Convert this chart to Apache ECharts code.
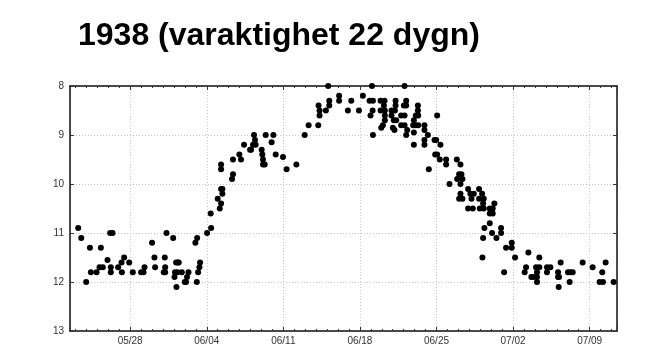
<!DOCTYPE html>
<html>
<head>
<meta charset="utf-8">
<script src="https://cdn.jsdelivr.net/npm/echarts@6/dist/echarts.min.js"></script>
<style>
html, body { margin: 0; padding: 0; background: #fff; }
#chart { width: 668px; height: 348px; }
</style>
</head>
<body>
<div id="chart"></div>
<script>
const titleText = '1938 (varaktighet 22 dygn)';

// x = day of year 1938 (1 Jan = 0), so 05/28 = 147 and weekly ticks fall on multiples of 7
const firstTickDay = 147;
const tickLabels = ['05/28', '06/04', '06/11', '06/18', '06/25', '07/02', '07/09'];

const obsDay = [
  142.25, 142.53, 142.98, 143.32, 143.41, 143.93, 144.2, 144.32, 144.5, 144.93,
  145.17, 145.39, 145.23, 145.23, 145.9, 146.21, 146.24, 146.45, 146.91, 147.24,
  148.0, 148.22, 148.31, 149.0, 149.22, 149.28, 150.07, 150.16, 150.2, 150.2,
  150.32, 150.93, 151.05, 151.1, 151.2, 151.23, 151.35, 151.44, 151.32, 151.72,
  151.99, 152.11, 152.2, 152.33, 152.96, 153.12, 153.09, 153.21, 153.33, 153.39,
  154.03, 154.4, 154.36, 155.0, 155.19, 155.31, 155.31, 155.43, 155.43, 155.31,
  155.31, 156.31, 156.4, 156.4, 156.98, 157.13, 157.41, 157.96, 158.05, 158.23,
  158.32, 158.41, 158.47, 159.02, 159.08, 159.14, 159.14, 159.3, 159.39, 159.93,
  160.09, 160.3, 160.97, 161.3, 162.19, 162.95, 163.31, 164.19, 164.22, 164.31,
  164.31, 164.89, 165.1, 165.2, 165.2, 166.1, 166.1,
  166.9, 167.21, 167.91, 168.27, 168.88, 169.1, 169.19, 169.16, 168.97, 169.19,
  169.89, 170.25, 169.89, 170.19, 170.28, 170.28, 170.28, 170.1, 169.95, 170.89,
  171.2, 171.26, 171.26, 170.89, 171.1, 171.32, 171.01, 171.16, 171.77, 172.08,
  172.08, 172.23, 172.02, 172.23, 171.77, 172.08, 172.23, 172.32, 172.93, 173.11,
  173.33, 173.3, 173.3, 172.87, 173.08, 173.33, 172.93, 172.93, 173.9, 173.9,
  174.21, 173.9, 173.9, 174.3, 175.06, 174.82, 174.97, 175.36, 174.88, 175.06,
  175.3, 175.88, 175.88, 176.19, 176.86, 177.19, 177.07, 177.28, 176.89, 177.37,
  177.19, 177.19, 177.07, 177.37, 177.89, 178.1, 178.41, 178.2, 177.89, 178.32,
  178.89, 179.17, 178.89, 179.32, 179.26, 178.96, 179.32, 179.87, 180.14, 179.87,
  180.14, 180.29, 179.38, 179.87, 179.26, 180.08, 180.48, 180.9, 180.9, 179.2,
  181.36, 181.88, 181.88, 182.18, 181.18, 183.4, 183.19, 183.06, 183.67, 183.89,
  184.1, 184.4, 184.19, 184.19, 184.19, 184.4, 185.1, 185.41, 185.1, 186.11,
  186.11, 186.2, 186.17, 186.35, 187.02, 187.23, 187.45, 187.17, 188.36, 189.27,
  189.91, 190.22, 190.15, 190.46, 191.19
];

const waterLevel = [
  10.9, 11.1, 12.0, 11.3, 11.8, 11.8, 11.7, 11.3, 11.7, 11.55,
  11.0, 11.0, 11.7, 11.8, 11.7, 11.6, 11.8, 11.5, 11.6, 11.8,
  11.8, 11.8, 11.7, 11.2, 11.5, 11.7, 11.8, 11.5, 11.7, 11.8,
  11.0, 11.1, 11.9, 11.8, 11.6, 12.1, 11.6, 11.6, 11.8, 11.8,
  12.0, 12.0, 11.9, 11.8, 11.2, 11.1, 12.0, 11.8, 11.7, 11.6,
  11.0, 10.9, 10.6, 10.3, 10.5, 10.4, 10.1, 10.1, 10.2, 9.6,
  9.7, 9.9, 9.8, 9.5, 9.4, 9.5, 9.2, 9.3, 9.3, 9.2,
  9.0, 9.1, 9.2, 9.3, 9.4, 9.5, 9.6, 9.6, 9.0, 9.15,
  9.0, 9.4, 9.45, 9.7, 9.6, 9.0, 8.8, 8.8, 8.4, 8.5,
  8.6, 8.5, 8.0, 8.4, 8.3, 8.2, 8.3,
  8.5, 8.3, 8.5, 8.2, 8.3, 8.0, 8.3, 8.5, 8.6, 9.0,
  8.3, 8.3, 8.5, 8.4, 8.5, 8.6, 8.7, 8.8, 8.85, 8.5,
  8.5, 8.3, 8.4, 8.6, 8.7, 8.7, 8.85, 8.9, 8.6, 8.6,
  8.0, 8.3, 8.4, 8.4, 8.8, 8.8, 9.0, 8.9, 8.7, 8.6,
  8.6, 8.4, 8.5, 8.8, 8.8, 8.8, 8.95, 9.2, 8.8, 8.9,
  9.0, 9.1, 9.2, 9.7, 8.6, 9.1, 9.1, 9.2, 9.4, 9.4,
  9.5, 9.5, 9.6, 10.0, 9.5, 9.6, 9.8, 9.8, 9.9, 9.9,
  10.0, 10.2, 10.3, 10.3, 10.1, 10.2, 10.2, 10.3, 10.5, 10.5,
  10.1, 10.2, 10.3, 10.3, 10.4, 10.5, 10.5, 10.5, 10.5, 10.6,
  10.6, 10.4, 10.9, 10.8, 11.1, 11.0, 11.1, 10.9, 11.0, 11.5,
  11.3, 11.3, 11.2, 11.5, 11.8, 11.4, 11.7, 11.8, 11.9, 11.9,
  11.7, 11.7, 11.8, 11.9, 12.0, 11.5, 11.7, 11.7, 11.8, 11.8,
  11.9, 11.9, 12.1, 11.6, 11.8, 11.8, 11.8, 12.0, 11.6, 11.7,
  12.0, 12.0, 11.8, 11.6, 12.0
];

const points = obsDay.map((d, i) => [d, waterLevel[i]]);

function dayLabel(v) {
  const i = (v - firstTickDay) / 7;
  return Number.isInteger(i) && tickLabels[i] ? tickLabels[i] : '';
}

const chart = echarts.init(document.getElementById('chart'));

const frame = { show: true, onZero: false, lineStyle: { color: '#111', width: 1.5 } };
const grid = { show: true, lineStyle: { color: '#c4c4c4', type: [1, 2], width: 1 } };
const font = { color: '#333', fontSize: 10, fontFamily: 'Liberation Sans, Arial, sans-serif' };

const xBase = {
  type: 'value', min: 141.5, max: 191.5, minInterval: 7, maxInterval: 7, splitNumber: 7,
  axisLine: frame,
  axisTick: { show: true, inside: true, length: 4, lineStyle: { color: '#333' } },
  minorTick: { show: true, splitNumber: 7, length: 2, lineStyle: { color: '#333' } }
};
const yBase = {
  type: 'value', inverse: true, min: 8, max: 13, interval: 1,
  axisLine: frame,
  axisTick: { show: true, inside: true, length: 4, lineStyle: { color: '#333' } }
};

const option = {
  animation: false,
  backgroundColor: '#fff',
  title: {
    text: titleText, left: 73, top: 15,
    textStyle: { fontSize: 32, fontWeight: 'bold', color: '#000', fontFamily: 'Liberation Sans, Arial, sans-serif' }
  },
  grid: { left: 70, right: 51, top: 86, bottom: 17 },
  xAxis: [
    Object.assign({}, xBase, {
      position: 'bottom', splitLine: grid,
      axisLabel: Object.assign({ formatter: dayLabel, margin: 5 }, font)
    }),
    Object.assign({}, xBase, { position: 'top', splitLine: { show: false }, axisLabel: { show: false } })
  ],
  yAxis: [
    Object.assign({}, yBase, {
      position: 'left', splitLine: grid,
      axisLabel: Object.assign({ margin: 6 }, font)
    }),
    Object.assign({}, yBase, { position: 'right', splitLine: { show: false }, axisLabel: { show: false } })
  ],
  series: [{
    type: 'scatter',
    xAxisIndex: 0, yAxisIndex: 0,
    data: points,
    symbol: 'circle', symbolSize: 6,
    itemStyle: { color: '#000', opacity: 1 }
  }]
};

chart.setOption(option);
</script>
</body>
</html>
